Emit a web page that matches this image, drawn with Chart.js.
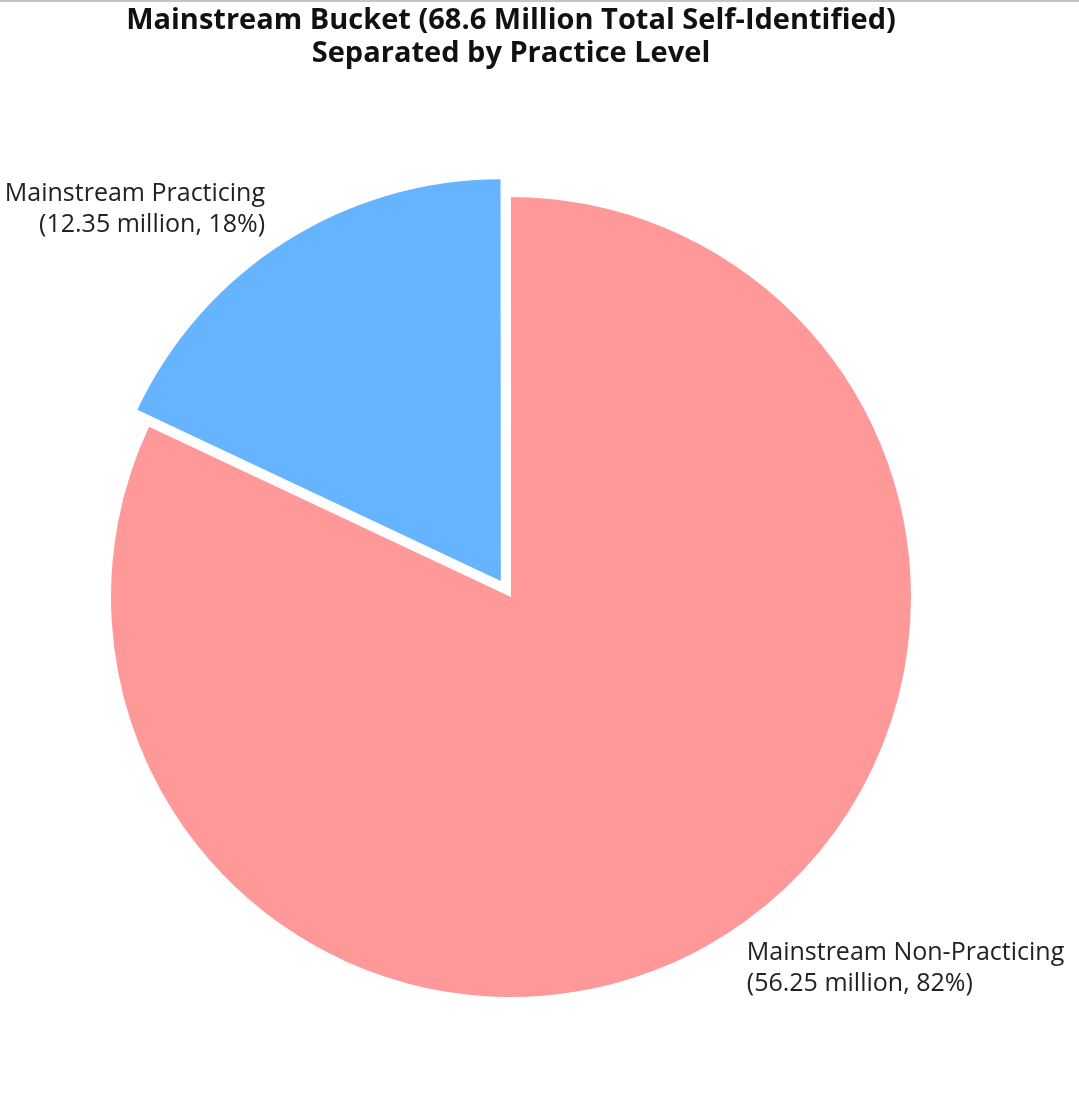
<!DOCTYPE html>
<html>
<head>
<meta charset="utf-8">
<script src="https://cdn.jsdelivr.net/npm/chart.js@4/dist/chart.umd.min.js"></script>
<style>
  html, body { margin: 0; padding: 0; background: #fff; }
  #wrap { position: relative; width: 1079px; height: 1098px; }
  #topline { position: absolute; left: 0; top: 0; width: 1079px; height: 2px; background: #c4c4c4; }
</style>
</head>
<body>
<div id="wrap">
  <canvas id="c" width="1079" height="1098"></canvas>
  <div id="topline"></div>
</div>
<script>
const titleLines = ['Mainstream Bucket (68.6 Million Total Self-Identified)', 'Separated by Practice Level'];
const categories = ['Mainstream Non-Practicing', 'Mainstream Practicing'];
const valuesMillions = [56.25, 12.35];
const percentLabels = ['82%', '18%'];
const sliceColors = ['#ff9999', '#66b3ff'];
const explode = [0, 76];

const labelPlugin = {
  id: 'outerLabels',
  afterDatasetsDraw(chart) {
    const ctx = chart.ctx;
    const meta = chart.getDatasetMeta(0);
    ctx.save();
    ctx.font = '25px "Open Sans", Lato, sans-serif';
    ctx.fillStyle = '#222';
    ctx.textBaseline = 'middle';
    const lh = 31;
    meta.data.forEach((arc, i) => {
      const mid = (arc.startAngle + arc.endAngle) / 2;
      const off = (arc.options.offset || 0) / 4;
      const cx = arc.x + Math.cos(mid) * off;
      const cy = arc.y + Math.sin(mid) * off;
      const r = arc.outerRadius * 1.1;
      const x = cx + Math.cos(mid) * r;
      const y = cy + Math.sin(mid) * r;
      ctx.textAlign = x < arc.x ? 'right' : 'left';
      const lines = [categories[i], '(' + valuesMillions[i].toFixed(2) + ' million, ' + percentLabels[i] + ')'];
      lines.forEach((t, k) => {
        ctx.fillText(t, x, y + (k - (lines.length - 1) / 2) * lh);
      });
    });
    ctx.restore();
  }
};

new Chart(document.getElementById('c'), {
  type: 'pie',
  data: {
    labels: categories,
    datasets: [{
      data: valuesMillions,
      backgroundColor: sliceColors,
      borderWidth: 0,
      offset: explode,
      hoverOffset: 0
    }]
  },
  options: {
    responsive: false,
    animation: false,
    radius: 400,
    layout: { padding: { left: 101, right: 158, top: 0, bottom: 0 } },
    plugins: {
      legend: { display: false },
      tooltip: { enabled: false },
      title: {
        display: true,
        text: titleLines,
        fullSize: false,
        color: '#111',
        font: { family: '"Open Sans", Lato, sans-serif', size: 29, weight: 'bold', lineHeight: 1.14 },
        padding: { top: 4, bottom: 26 }
      }
    }
  },
  plugins: [labelPlugin]
});
</script>
</body>
</html>
